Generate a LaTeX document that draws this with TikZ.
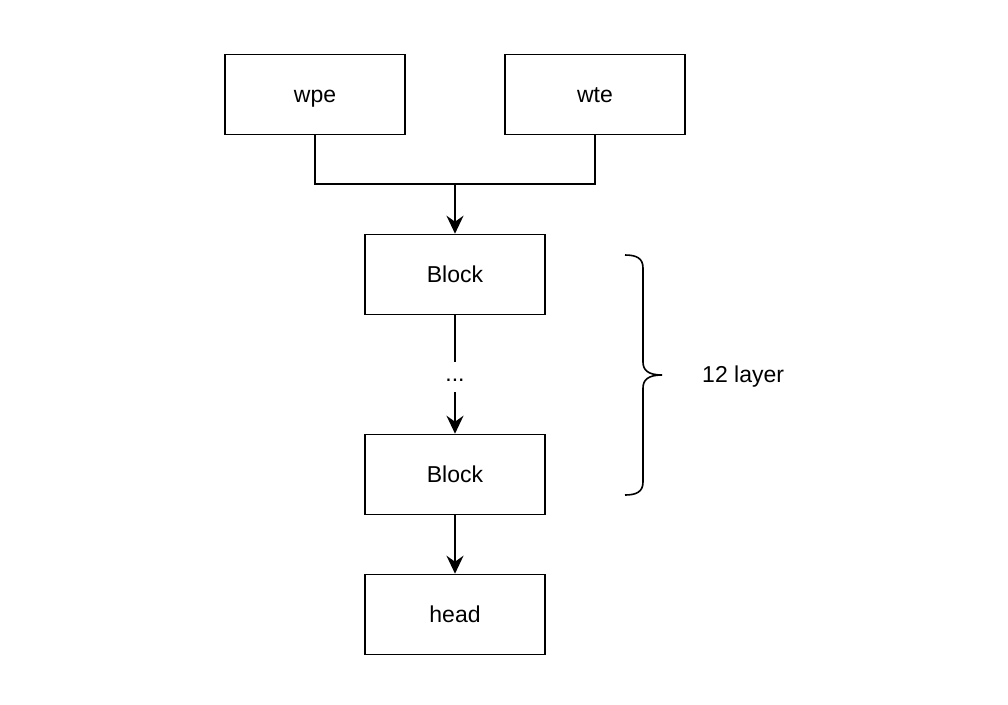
\documentclass[tikz,border=0pt]{standalone}
\usepackage{fontspec}
\setmainfont{Liberation Sans}
\usetikzlibrary{arrows.meta}
\begin{document}
\begin{tikzpicture}[x=1pt,y=-1pt,
  box/.style={draw,line width=1.6pt,minimum width=180pt,minimum height=80pt,inner sep=0pt,text height=16.5pt,text depth=0pt,font=\fontsize{23}{27}\selectfont},
  conn/.style={line width=1.6pt},
  arr/.style={conn,-{Stealth[length=18pt,width=17pt,inset=6pt]}},
  lbl/.style={font=\fontsize{23}{27}\selectfont}]
\useasboundingbox (0,0) rectangle (1008,704);
\node[box] (wpe) at (315,94.5) {wpe};
\node[box] (wte) at (595,94.5) {wte};
\node[box] (b1) at (455,274.5) {Block};
\node[box] (b2) at (455,474.5) {Block};
\node[box] (head) at (455,614.5) {head};
\coordinate (j) at (455,184);
\node[lbl,inner sep=0pt] (dots) at (455,380) {...};
\coordinate (d1) at (455,362);
\coordinate (d2) at (455,392);
\draw[conn] (wpe.south) |- (j) -| (wte.south);
\draw[arr] (j) -- (b1.north);
\draw[conn] (b1.south) -- (d1);
\draw[arr] (d2) -- (b2.north);
\draw[arr] (b2.south) -- (head.north);
\draw[conn] (625,255) .. controls (636,255) and (643,258) .. (643,268)
  -- (643,362) .. controls (643,370) and (648,375) .. (662,375);
\draw[conn] (625,495) .. controls (636,495) and (643,492) .. (643,482)
  -- (643,388) .. controls (643,380) and (648,375) .. (662,375);
\node[lbl,anchor=west,inner sep=0pt] (lay) at (702,377) {12 layer};
\end{tikzpicture}
\end{document}
